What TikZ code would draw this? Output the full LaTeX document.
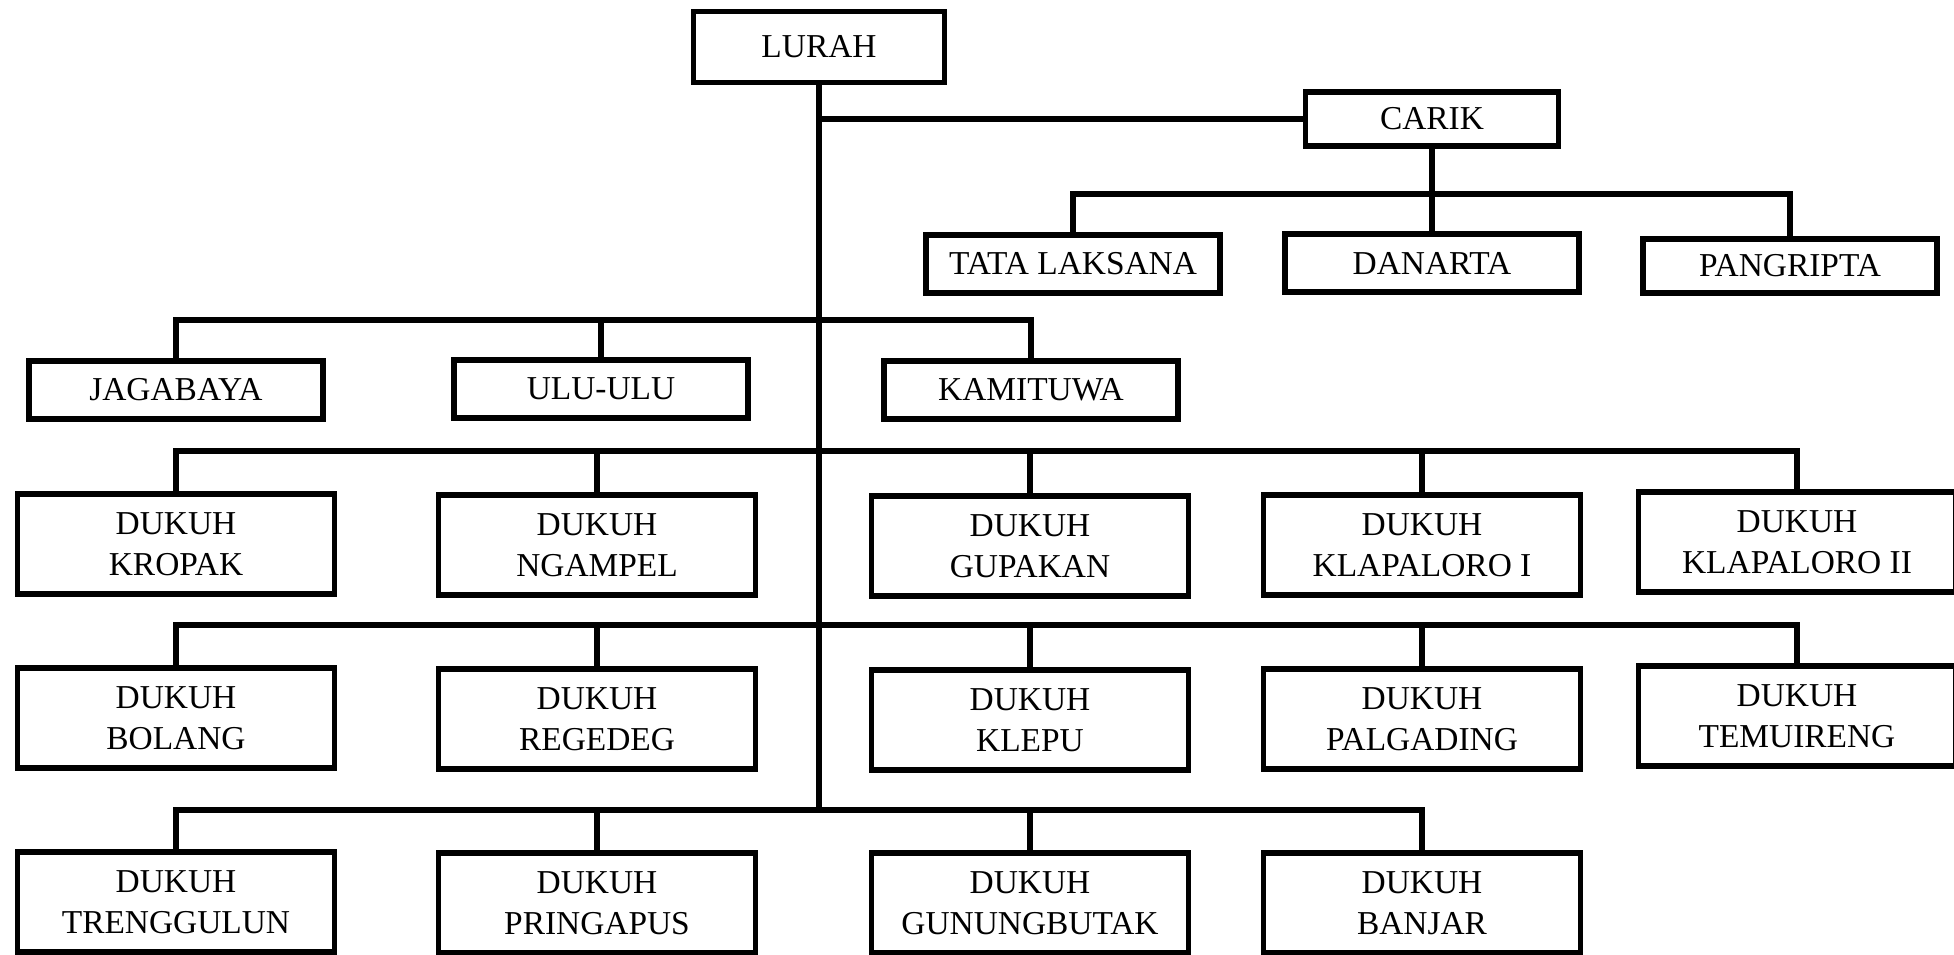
\documentclass[tikz,border=0pt]{standalone}
\usepackage{fontspec}
\setmainfont{Liberation Serif}

\begin{document}
\begin{tikzpicture}[x=0.01cm,y=-0.01cm,line width=1.6pt,
	box/.style={draw,line width=1.6pt,inner sep=0pt,align=center,
		font=\fontsize{9.5}{11.6}\selectfont},
	unitbox/.style={box,minimum width=2.94cm,minimum height=0.58cm},
	dukuhbox/.style={box,minimum width=3.17cm,minimum height=1.0cm}]
	\useasboundingbox (0,0) rectangle (1954,954);

	\node[box,minimum width=2.51cm,minimum height=0.71cm] (lurah) at (819,47){LURAH};
	\node[box,minimum width=2.53cm,minimum height=0.54cm] (carik) at (1432,119){CARIK};

	\node[unitbox] (tata) at (1073,264){TATA LAKSANA};
	\node[unitbox] (danarta) at (1432,263){DANARTA};
	\node[unitbox,minimum height=0.54cm] (pangripta) at (1790,266){PANGRIPTA};

	\node[unitbox] (jagabaya) at (176,390){JAGABAYA};
	\node[unitbox] (ulu) at (601,389){ULU-ULU};
	\node[unitbox] (kamituwa) at (1031,390){KAMITUWA};

	\node[dukuhbox] (kropak) at (176,544){DUKUH\\KROPAK};
	\node[dukuhbox] (ngampel) at (597,545){DUKUH\\NGAMPEL};
	\node[dukuhbox] (gupakan) at (1030,546){DUKUH\\GUPAKAN};
	\node[dukuhbox] (klapa1) at (1422,545){DUKUH\\KLAPALORO I};
	\node[dukuhbox] (klapa2) at (1797,542){DUKUH\\KLAPALORO II};

	\node[dukuhbox] (bolang) at (176,718){DUKUH\\BOLANG};
	\node[dukuhbox] (regedeg) at (597,719){DUKUH\\REGEDEG};
	\node[dukuhbox] (klepu) at (1030,720){DUKUH\\KLEPU};
	\node[dukuhbox] (palgading) at (1422,719){DUKUH\\PALGADING};
	\node[dukuhbox] (temuireng) at (1797,716){DUKUH\\TEMUIRENG};

	\node[dukuhbox] (trenggulun) at (176,902){DUKUH\\TRENGGULUN};
	\node[dukuhbox] (pringapus) at (597,903){DUKUH\\PRINGAPUS};
	\node[dukuhbox] (gunungbutak) at (1030,903){DUKUH\\GUNUNGBUTAK};
	\node[dukuhbox] (banjar) at (1422,903){DUKUH\\BANJAR};

	% bus levels
	\coordinate (cbus) at (0,194);
	\coordinate (lbus) at (0,320);
	\coordinate (abus) at (0,451);
	\coordinate (bbus) at (0,625);
	\coordinate (tbus) at (0,810);

	% trunk and carik
	\draw (lurah.south) -- (lurah.south |- tbus);
	\draw (lurah.south |- carik.west) -- (carik.west);
	\draw (carik.south) -- (danarta.north);
	\draw (tata.north) -- (tata.north |- cbus) -| (pangripta.north);

	% jagabaya, ulu-ulu, kamituwa
	\draw (jagabaya.north) -- (jagabaya.north |- lbus) -| (kamituwa.north);
	\draw (ulu.north) -- (ulu.north |- lbus);

	% dukuh rows
	\draw (kropak.north) -- (kropak.north |- abus) -| (klapa2.north);
	\draw (ngampel.north) -- (ngampel.north |- abus);
	\draw (gupakan.north) -- (gupakan.north |- abus);
	\draw (klapa1.north) -- (klapa1.north |- abus);

	\draw (bolang.north) -- (bolang.north |- bbus) -| (temuireng.north);
	\draw (regedeg.north) -- (regedeg.north |- bbus);
	\draw (klepu.north) -- (klepu.north |- bbus);
	\draw (palgading.north) -- (palgading.north |- bbus);

	\draw (trenggulun.north) -- (trenggulun.north |- tbus) -| (banjar.north);
	\draw (pringapus.north) -- (pringapus.north |- tbus);
	\draw (gunungbutak.north) -- (gunungbutak.north |- tbus);
\end{tikzpicture}
\end{document}
